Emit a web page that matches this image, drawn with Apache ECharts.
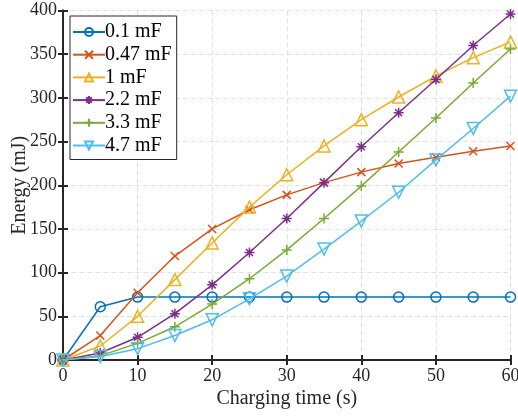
<!DOCTYPE html>
<html>
<head>
<meta charset="utf-8">
<script src="https://cdn.jsdelivr.net/npm/echarts@6/dist/echarts.min.js"></script>
<style>html,body{margin:0;padding:0;background:#fff}#c{width:518px;height:416px}</style>
</head>
<body>
<div id="c"></div>
<script>
const times = [0, 5, 10, 15, 20, 25, 30, 35, 40, 45, 50, 55, 60];
const seriesNames = ['0.1 mF', '0.47 mF', '1 mF', '2.2 mF', '3.3 mF', '4.7 mF'];
const e01 = [0, 61, 72, 72, 72, 72, 72, 72, 72, 72, 72, 72, 72];
const e047 = [0, 28, 77, 119, 150, 172, 189, 203, 215, 225, 232, 239, 245];
const e1 = [0, 16, 50, 92, 134, 175, 212, 245, 275, 301, 325, 346, 364];
const e22 = [0, 8, 26, 53, 86, 123, 162, 203, 244, 283, 321, 360, 396];
const e33 = [0, 5, 19, 38, 64, 93, 126, 162, 199, 238, 277, 317, 356];
const e47 = [0, 4, 13, 28, 46, 70, 96, 127, 159, 192, 229, 265, 302];
const xTicks = [0, 10, 20, 30, 40, 50, 60];
const yTicks = [0, 50, 100, 150, 200, 250, 300, 350, 400];

const values = [e01, e047, e1, e22, e33, e47];
const colors = ['#0072BD', '#D95319', '#EDB120', '#7E2F8E', '#77AC30', '#4DBEEE'];
const symbols = [
  'circle',
  'path://M0,0L10,10M10,0L0,10',
  'triangle',
  'path://M5,0L5,10M0,5L10,5M1.5,1.5L8.5,8.5M8.5,1.5L1.5,8.5',
  'path://M5,0L5,10M0,5L10,5',
  'triangle'
];
const sizes = [10, 8, 12, 10, 10, 12];
const rotates = [0, 0, 0, 0, 0, 180];

const font = 'Liberation Serif';
const axisColor = '#262626';

const series = values.map((v, i) => ({
  name: seriesNames[i],
  type: 'line',
  data: v.map((y, k) => [times[k], y]),
  symbol: symbols[i],
  symbolSize: sizes[i],
  symbolRotate: rotates[i],
  showAllSymbol: true,
  lineStyle: { color: colors[i], width: 1.5 },
  itemStyle: { color: 'rgba(0,0,0,0)', borderColor: colors[i], borderWidth: 1.5 },
  emphasis: { disabled: true },
  z: 3 + i
}));

const baseAxis = {
  type: 'value',
  axisLine: { show: true, lineStyle: { color: axisColor, width: 2 } },
  axisTick: { show: true, inside: true, length: 5, lineStyle: { color: axisColor, width: 2 } },
  splitLine: { show: false },
  axisLabel: { show: false }
};
const gridLine = { show: true, lineStyle: { color: '#e2e2e2', width: 1, type: [5, 3] } };

const option = {
  animation: false,
  backgroundColor: '#fff',
  grid: { left: 63, right: 7.5, top: 10.5, bottom: 56, containLabel: false, outerBoundsMode: 'none' },
  legend: {
    orient: 'vertical',
    left: 70,
    top: 16,
    data: seriesNames,
    backgroundColor: '#fff',
    borderColor: axisColor,
    borderWidth: 1,
    borderRadius: 0,
    padding: [6, 5, 4, 2],
    itemWidth: 32,
    itemHeight: 10,
    itemGap: 2.7,
    lineStyle: { width: 2 },
    textStyle: { fontFamily: font, fontSize: 20, color: '#000', padding: [0, 0, 0, -5] }
  },
  xAxis: [
    Object.assign({}, baseAxis, {
      min: 0, max: 60, interval: 10, position: 'bottom',
      name: 'Charging time (s)', nameLocation: 'middle', nameGap: 29, nameMoveOverlap: false,
      nameTextStyle: { fontFamily: font, fontSize: 20, color: '#262626' },
      axisLabel: { show: true, fontFamily: font, fontSize: 18, color: '#262626', margin: 7,
        formatter: v => xTicks.includes(v) ? String(v) : '' },
      splitLine: gridLine
    }),
    Object.assign({}, baseAxis, { min: 0, max: 60, interval: 10, position: 'top' })
  ],
  yAxis: [
    Object.assign({}, baseAxis, {
      min: 0, max: 400, interval: 50, position: 'left',
      name: 'Energy (mJ)', nameLocation: 'middle', nameGap: 33, nameMoveOverlap: false,
      nameTextStyle: { fontFamily: font, fontSize: 20, color: '#262626' },
      axisLabel: { show: true, fontFamily: font, fontSize: 18, color: '#262626', margin: 6,
        formatter: v => yTicks.includes(v) ? String(v) : '' },
      splitLine: gridLine
    }),
    Object.assign({}, baseAxis, { min: 0, max: 400, interval: 50, position: 'right' })
  ],
  series: series
};

const chart = echarts.init(document.getElementById('c'), null, { renderer: 'canvas' });
chart.setOption(option);
</script>
</body>
</html>
